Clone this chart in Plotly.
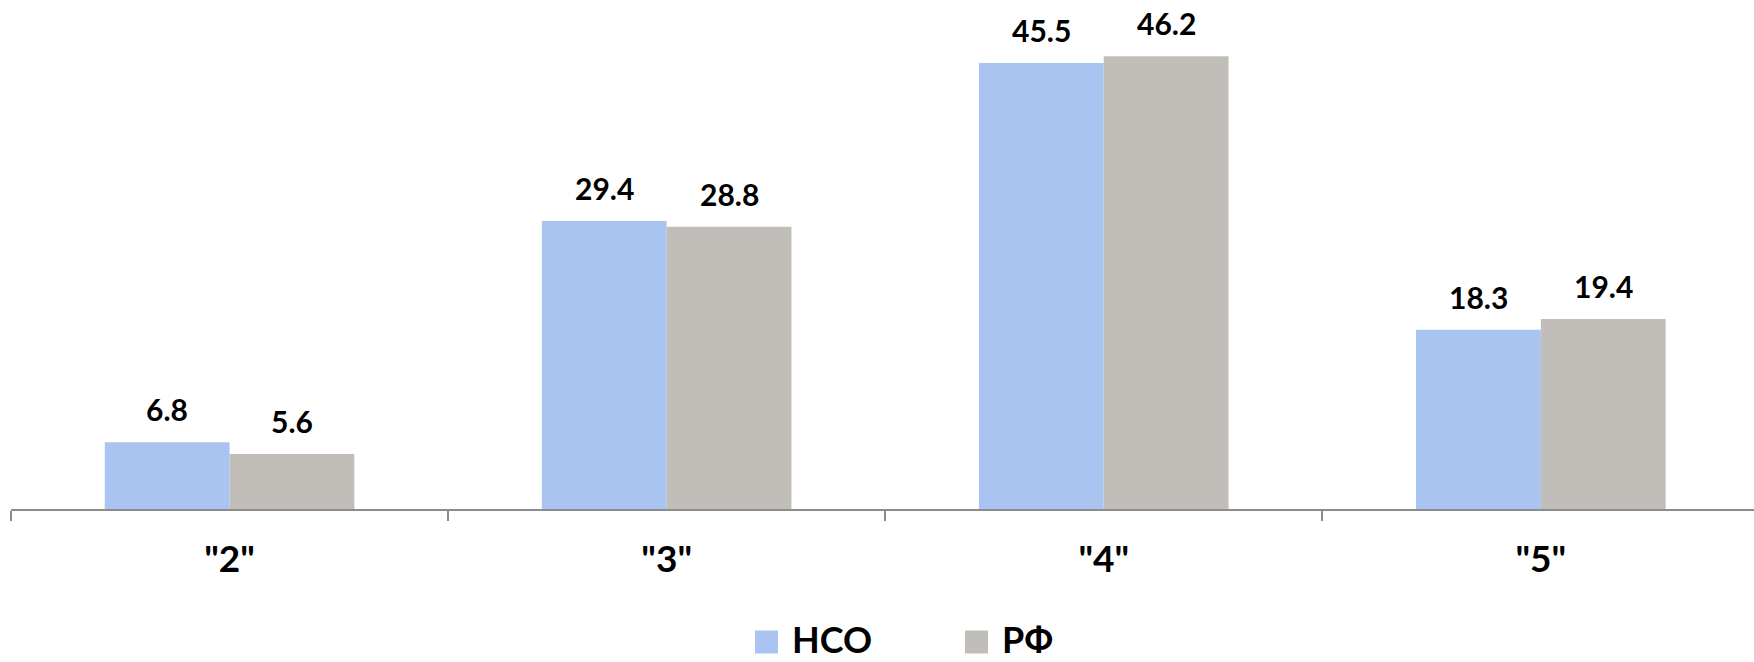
import plotly.graph_objects as go

categories = ['"2"', '"3"', '"4"', '"5"']
series_names = ["НСО", "РФ"]
nso_values = [6.8, 29.4, 45.5, 18.3]
rf_values = [5.6, 28.8, 46.2, 19.4]
colors = ["#A9C4F0", "#C1BEBA"]

W, H = 1754, 662
ml, mr, mt, mb = 11, 0, 10, 153
plot_w = W - ml - mr
plot_h = H - mt - mb
px_per_unit = 9.8
ymax = plot_h / px_per_unit
cat_px = 437.1
x_end = -0.5 + plot_w / cat_px
bargap = 0.429

fig = go.Figure()
for name, vals, col in zip(series_names, [nso_values, rf_values], colors):
    fig.add_trace(go.Bar(x=categories, y=vals, name=name, marker_color=col,
                         marker_line_width=0, showlegend=False, hoverinfo="skip"))

bar_half = 0.5 * (1 - bargap) / 2
annotations = []
for si, vals in enumerate([nso_values, rf_values]):
    off = -bar_half if si == 0 else bar_half
    for ci, v in enumerate(vals):
        annotations.append(dict(x=ci + off, y=v, xref="x", yref="y", text=f"{v:.1f}",
                                showarrow=False, yanchor="bottom", yshift=13,
                                font=dict(family="Lato", size=30, color="#000000", weight="bold")))

# custom legend
leg_cy = 639
sq = 23
leg_items = [(755, series_names[0], colors[0]), (965, series_names[1], colors[1])]
shapes = []
for x0, name, col in leg_items:
    shapes.append(dict(type="rect", xref="paper", yref="paper",
                       x0=(x0 - ml) / plot_w, x1=(x0 + sq - ml) / plot_w,
                       y0=-(leg_cy + 3 + sq / 2 - (mt + plot_h)) / plot_h,
                       y1=-(leg_cy + 3 - sq / 2 - (mt + plot_h)) / plot_h,
                       fillcolor=col, line_width=0))
    annotations.append(dict(x=(x0 + sq + 12 - ml) / plot_w, y=-(leg_cy - (mt + plot_h)) / plot_h,
                            xref="paper", yref="paper", text=name, showarrow=False,
                            xanchor="left", yanchor="middle",
                            font=dict(family="Lato", size=36, color="#000000", weight="bold")))

fig.update_layout(
    width=W, height=H,
    margin=dict(l=ml, r=mr, t=mt, b=mb),
    paper_bgcolor="white", plot_bgcolor="white",
    barmode="group", bargap=bargap, bargroupgap=0,
    showlegend=False, hovermode=False,
    annotations=annotations, shapes=shapes,
    xaxis=dict(type="category", range=[-0.5, x_end], tickson="boundaries",
               ticks="outside", ticklen=10, tickwidth=2, tickcolor="#8C8C8C",
               showline=True, linecolor="#8C8C8C", linewidth=2,
               showgrid=False, ticklabelstandoff=17,
               tickfont=dict(family="Lato", size=37, color="#000000", weight="bold")),
    yaxis=dict(range=[0, ymax], visible=False, showgrid=False, zeroline=False),
)

fig.write_html("out.html", config={"displayModeBar": False},
               post_script="document.body.style.margin='0';document.body.style.overflow='hidden';")
